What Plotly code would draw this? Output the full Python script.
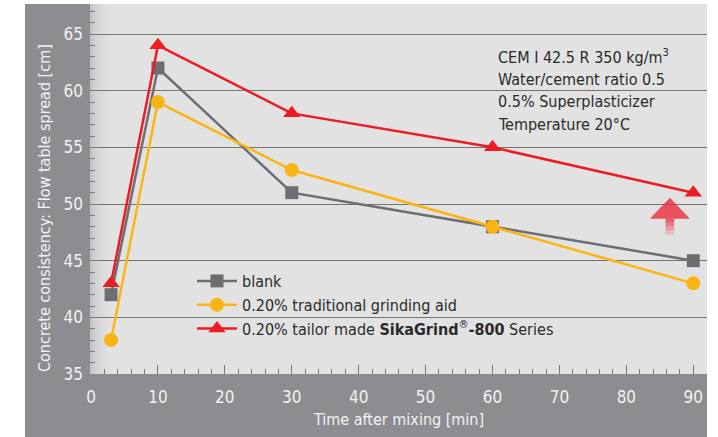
import plotly.graph_objects as go

# ---- data ----
time_min = [3, 10, 30, 60, 90]
blank = [42, 62, 51, 48, 45]
traditional = [38, 59, 53, 48, 43]
sikagrind = [43, 64, 58, 55, 51]

series_names = [
    "blank",
    "0.20% traditional grinding aid",
    "0.20% tailor made <b>SikaGrind</b><sup>®</sup><b>-800</b> Series",
]
info_lines = [
    "CEM I 42.5 R 350 kg/m<sup>3</sup>",
    "Water/cement ratio 0.5",
    "0.5% Superplasticizer",
    "Temperature 20°C",
]
x_title = "Time after mixing [min]"
y_title = "Concrete consistency: Flow table spread [cm]"

FONT = "Liberation Sans Narrow, DejaVu Sans Condensed, Arial Narrow, sans-serif"
GRAY = "#6d6e71"
YELLOW = "#fcb415"
RED = "#ec1c24"
FRAME = "#8c8d90"

fig = go.Figure()

fig.add_trace(go.Scatter(
    x=time_min, y=blank, name=series_names[0], mode="lines+markers",
    line=dict(color=GRAY, width=2.5),
    marker=dict(symbol="square", size=13, color=GRAY),
))
fig.add_trace(go.Scatter(
    x=time_min, y=traditional, name=series_names[1], mode="lines+markers",
    line=dict(color=YELLOW, width=2.5),
    marker=dict(symbol="circle", size=14, color=YELLOW),
))
fig.add_trace(go.Scatter(
    x=time_min, y=sikagrind, name=series_names[2], mode="lines+markers",
    line=dict(color=RED, width=2.5),
    marker=dict(symbol="triangle-up", size=15, color=RED),
))

shapes = []
LX = -65 / 617
BY = -63 / 370
# gray frame: left panel and bottom band
shapes.append(dict(type="rect", xref="paper", yref="paper",
                   x0=LX, x1=0, y0=BY, y1=1.0,
                   fillcolor=FRAME, line=dict(width=0), layer="below"))
shapes.append(dict(type="rect", xref="paper", yref="paper",
                   x0=LX, x1=1.0, y0=BY, y1=0,
                   fillcolor=FRAME, line=dict(width=0), layer="below"))
# soft shadow along left edge of the plot area
for i, op in enumerate([0.12, 0.08, 0.06, 0.04, 0.025, 0.015]):
    shapes.append(dict(type="rect", xref="paper", yref="paper",
                       x0=i * 3 / 617, x1=(i + 1) * 3 / 617, y0=0, y1=1,
                       fillcolor="black", opacity=op, line=dict(width=0),
                       layer="below"))

# red upward arrow with a fading shaft
ax = 86.5
shapes.append(dict(
    type="path", xref="x", yref="y",
    path=f"M {ax-3.0},48.7 L {ax},50.55 L {ax+3.0},48.7 Z",
    fillcolor="rgba(234,45,60,0.8)", line=dict(width=0), layer="above",
))
seg_edges = [48.7, 48.35, 48.0, 47.65, 47.3]
seg_alpha = [0.72, 0.55, 0.38, 0.2]
for k in range(4):
    shapes.append(dict(
        type="rect", xref="x", yref="y",
        x0=ax - 0.65, x1=ax + 0.65, y0=seg_edges[k + 1], y1=seg_edges[k],
        fillcolor=f"rgba(234,45,60,{seg_alpha[k]})", line=dict(width=0),
        layer="above",
    ))

annotations = []
for i, t in enumerate(info_lines):
    py = 57 + i * 22.5
    annotations.append(dict(
        text=t, xref="paper", yref="paper",
        x=(496 - 90) / 617, y=(374 - py) / 370,
        xanchor="left", yanchor="middle", showarrow=False,
        font=dict(family=FONT, size=16, color="#2b2b2b"),
    ))
annotations.append(dict(
    text=y_title, xref="paper", yref="paper",
    x=(45 - 90) / 617, y=(374 - 208) / 370, textangle=-90,
    xanchor="center", yanchor="middle", showarrow=False,
    font=dict(family=FONT, size=16, color="#f2f2f2"),
))
annotations.append(dict(
    text=x_title, xref="paper", yref="paper",
    x=(398 - 90) / 617, y=(374 - 419) / 370,
    xanchor="center", yanchor="middle", showarrow=False,
    font=dict(family=FONT, size=16, color="#f2f2f2"),
))

fig.update_layout(
    width=718, height=437,
    margin=dict(l=90, r=11, t=4, b=63, pad=0),
    paper_bgcolor="white",
    plot_bgcolor="#e2e2e2",
    font=dict(family=FONT, size=16, color="#f2f2f2"),
    shapes=shapes,
    annotations=annotations,
    legend=dict(
        x=(192 - 90) / 617, y=(374 - 264) / 370,
        xanchor="left", yanchor="top",
        bgcolor="rgba(0,0,0,0)",
        font=dict(family=FONT, size=16, color="#2b2b2b"),
        tracegroupgap=0, itemwidth=40,
    ),
    xaxis=dict(
        range=[-0.15, 92.05], dtick=10, tick0=0,
        showgrid=False, zeroline=False, showline=False,
        ticks="inside", ticklen=9, tickcolor="#7a7a7a", tickwidth=1,
        minor=dict(dtick=2, ticks="inside", ticklen=5, tickcolor="#7a7a7a", showgrid=False),
        tickfont=dict(family=FONT, size=17, color="#f2f2f2"),
        ticklabelstandoff=11,
    ),
    yaxis=dict(
        range=[35, 67.65], dtick=5, tick0=35,
        showgrid=True, gridcolor="#747474", gridwidth=1,
        zeroline=False, showline=False,
        ticks="inside", ticklen=7, tickcolor="#7a7a7a", tickwidth=1,
        minor=dict(dtick=1, ticks="inside", ticklen=5, tickcolor="#7a7a7a", showgrid=False),
        tickfont=dict(family=FONT, size=17, color="#f2f2f2"),
        ticklabelstandoff=6,
    ),
)

fig.write_html(
    "out.html",
    config={"displayModeBar": False},
    post_script="document.body.style.margin='0';document.body.style.overflow='hidden';",
)
